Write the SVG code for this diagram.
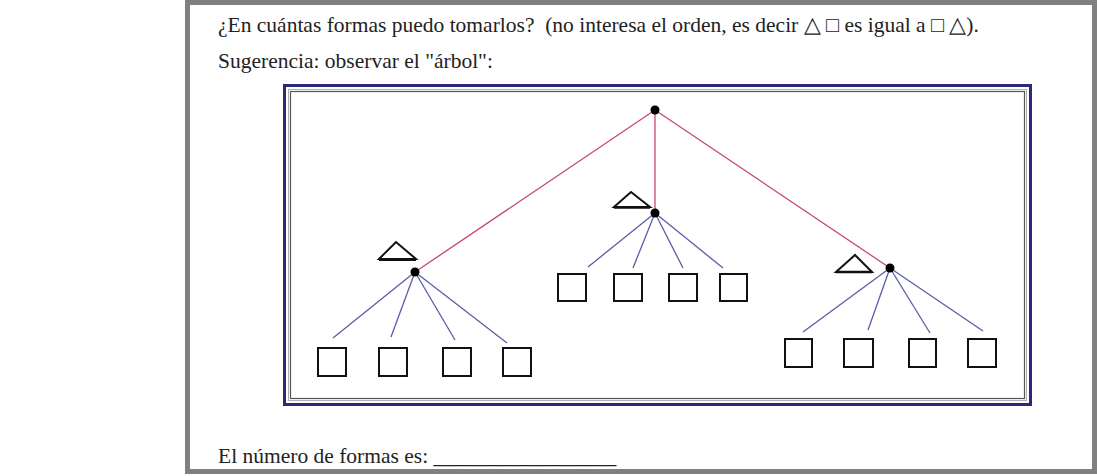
<svg xmlns="http://www.w3.org/2000/svg" width="1097" height="476" viewBox="0 0 1097 476">
<style>
.t{font-family:"Liberation Serif","Times New Roman",serif;font-size:21.5px;fill:#222;white-space:pre}
.e1{stroke:#c84a6a;stroke-width:1.3;fill:none}
.e2{stroke:#5c5ca8;stroke-width:1.3;fill:none}
.sq{fill:#fff;stroke:#111;stroke-width:2}
.tri{fill:#fff;stroke:#111;stroke-width:2;stroke-linejoin:miter}
.dot{fill:#000}
</style>
<rect x="0" y="0" width="1097" height="476" fill="#fff"/>
<rect x="187.5" y="2.5" width="907" height="469" fill="#fff" stroke="#808080" stroke-width="5"/>
<text class="t" x="218" y="32" xml:space="preserve">¿En cuántas formas puedo tomarlos?  (no interesa el orden, es decir △ □ es igual a □ △).</text>
<text class="t" x="218" y="68">Sugerencia: observar el "árbol":</text>
<text class="t" x="218" y="463">El número de formas es: _________________</text>
<g id="frame">
<rect x="284.5" y="85.5" width="746" height="319" fill="#fff" stroke="#2a2a78" stroke-width="3"/>
<rect x="288.5" y="89.5" width="738" height="311" fill="none" stroke="#b0b0b0" stroke-width="1"/>
<rect x="290.5" y="91.5" width="734" height="307" fill="none" stroke="#555" stroke-width="1.2"/>
</g>
<g id="connectors">
<line class="e1" x1="655" y1="110" x2="415" y2="272"/>
<line class="e1" x1="655" y1="110" x2="655" y2="213"/>
<line class="e1" x1="655" y1="110" x2="890" y2="268"/>
<line class="e2" x1="415" y1="272" x2="333" y2="338"/>
<line class="e2" x1="415" y1="272" x2="391" y2="337"/>
<line class="e2" x1="415" y1="272" x2="455" y2="340"/>
<line class="e2" x1="415" y1="272" x2="507" y2="343"/>
<line class="e2" x1="655" y1="213" x2="588" y2="267"/>
<line class="e2" x1="655" y1="213" x2="633" y2="268"/>
<line class="e2" x1="655" y1="213" x2="683" y2="268"/>
<line class="e2" x1="655" y1="213" x2="723" y2="268"/>
<line class="e2" x1="890" y1="268" x2="803" y2="332"/>
<line class="e2" x1="890" y1="268" x2="868" y2="330"/>
<line class="e2" x1="890" y1="268" x2="930" y2="333"/>
<line class="e2" x1="890" y1="268" x2="983" y2="331"/>
</g>
<g id="root"><circle class="dot" cx="655" cy="110" r="4.5"/></g>
<g id="left">
<circle class="dot" cx="415" cy="272" r="4.5"/>
<polygon class="tri" points="379,259 396,242 416,259"/>
<line x1="379" y1="259.5" x2="416" y2="259.5" stroke="#111" stroke-width="3"/>
</g>
<g id="mid">
<circle class="dot" cx="655" cy="213" r="4.5"/>
<polygon class="tri" points="614,207 631,192 650,207"/>
<line x1="614" y1="207.5" x2="650" y2="207.5" stroke="#111" stroke-width="2.5"/>
</g>
<g id="right">
<circle class="dot" cx="890" cy="268" r="4.5"/>
<polygon class="tri" points="836,272 855,255 872,272"/>
<line x1="836" y1="272" x2="872" y2="272" stroke="#111" stroke-width="2.5"/>
</g>
<g id="leaves-left">
<rect class="sq" x="318" y="348" width="28" height="28"/>
<rect class="sq" x="379" y="348" width="28" height="28"/>
<rect class="sq" x="443" y="348" width="28" height="28"/>
<rect class="sq" x="503" y="348" width="28" height="28"/>
</g>
<g id="leaves-mid">
<rect class="sq" x="558" y="274" width="28" height="27"/>
<rect class="sq" x="614" y="274" width="28" height="27"/>
<rect class="sq" x="669" y="274" width="28" height="27"/>
<rect class="sq" x="720" y="274" width="27" height="27"/>
</g>
<g id="leaves-right">
<rect class="sq" x="785" y="339" width="27" height="28"/>
<rect class="sq" x="844" y="339" width="29" height="28"/>
<rect class="sq" x="909" y="339" width="27" height="28"/>
<rect class="sq" x="968" y="339" width="28" height="28"/>
</g>
</svg>
